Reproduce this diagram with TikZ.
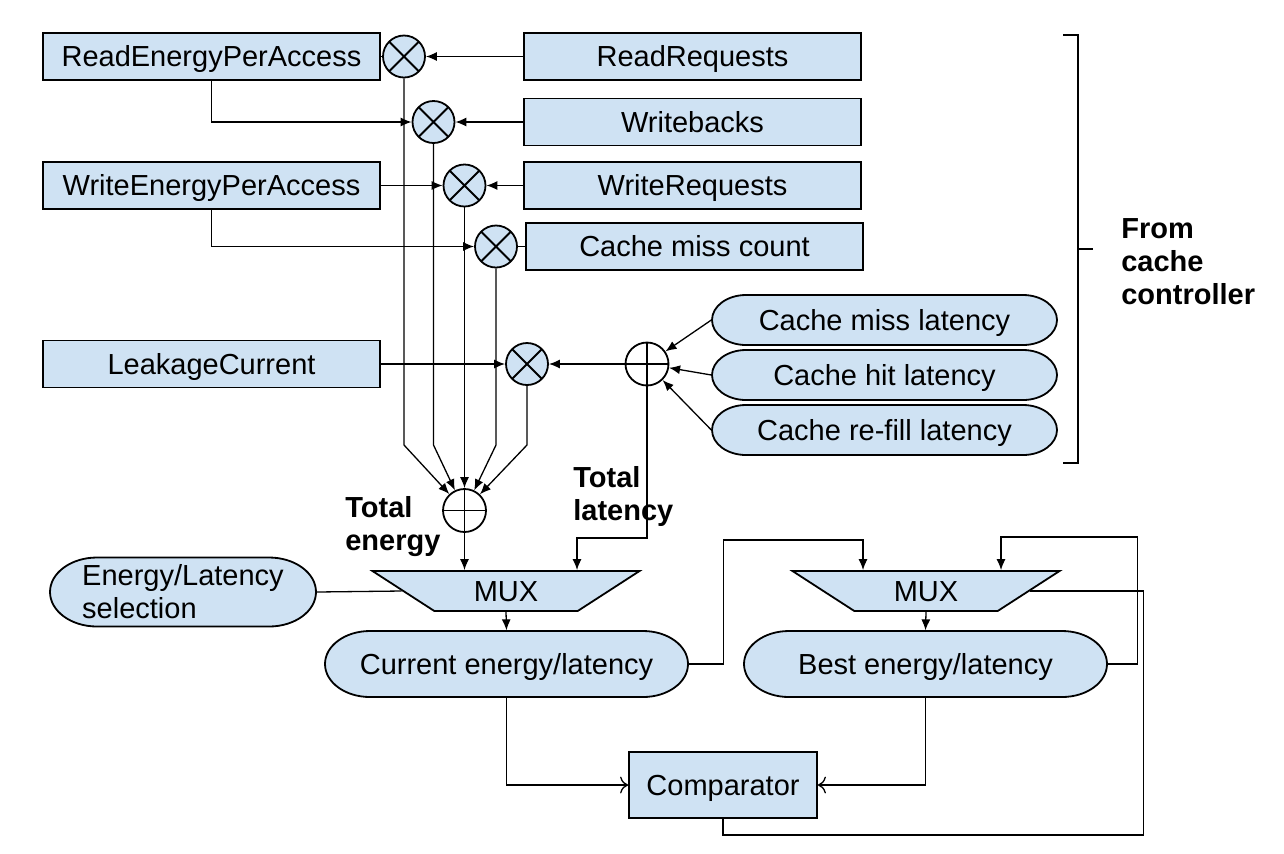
\documentclass[tikz,border=0pt]{standalone}
\usepackage{fontspec}
\setmainfont{Liberation Sans}
\usetikzlibrary{arrows.meta,shapes.geometric}
\definecolor{boxblue}{HTML}{CFE2F3}

% rounded "terminator" node: [text style], name, centre, width, height, text
\newcommand\pill[6][captext]{%
  \pgfmathsetmacro\pw{#4/2}\pgfmathsetmacro\ph{#5/2}\pgfmathsetmacro\pr{0.68*#5}
  \begin{scope}[shift={(#3)}]
    \draw[pillline] (-\pw+\pr,-\ph) -- (\pw-\pr,-\ph)
      arc[start angle=-90, end angle=90, x radius=\pr, y radius=\ph]
      -- (-\pw+\pr,\ph)
      arc[start angle=90, end angle=270, x radius=\pr, y radius=\ph] -- cycle;
  \end{scope}
  \node[#1, minimum width=#4*0.5pt, minimum height=#5*0.5pt, inner sep=0pt, align=left] (#2) at (#3) {#6};%
}

\begin{document}
\begin{tikzpicture}[x=0.5pt, y=-0.5pt, line width=0.65pt,
  >={Latex[length=5.5pt,width=4.5pt]},
  every node/.style={font=\fontsize{14.5}{16.5}\selectfont},
  captext/.style={text height=10.4pt, text depth=0pt},
  box/.style={captext, draw, line width=0.9pt, fill=boxblue, minimum width=168.5pt, minimum height=23.5pt, inner sep=0pt},
  pillline/.style={draw, line width=0.9pt, fill=boxblue},
  mult/.style={circle, draw, line width=0.9pt, fill=boxblue, minimum size=21pt, inner sep=0pt,
    path picture={\draw[line width=0.9pt] (path picture bounding box.north west) -- (path picture bounding box.south east)
      (path picture bounding box.north east) -- (path picture bounding box.south west);}},
  adder/.style={circle, draw, line width=0.9pt, fill=white, minimum size=21.5pt, inner sep=0pt,
    path picture={\draw[line width=0.9pt] (path picture bounding box.north) -- (path picture bounding box.south)
      (path picture bounding box.west) -- (path picture bounding box.east);}},
  mux/.style={captext, trapezium, trapezium angle=36.8, shape border rotate=180, trapezium stretches=true,
    draw, line width=0.9pt, fill=boxblue, minimum width=134pt, minimum height=20pt, inner sep=0pt},
  lbl/.style={font=\fontsize{14.5}{16.5}\selectfont\bfseries, align=left, anchor=west}]
  \useasboundingbox (0,0) rectangle (1284,853);

  % energy per access and counters
  \node[box] (rdE) at (211.5,56.5) {ReadEnergyPerAccess};
  \node[box] (wrE) at (211.5,185.5) {WriteEnergyPerAccess};
  \node[box] (leak) at (211.5,364) {LeakageCurrent};
  \node[box] (rdReq) at (692.5,56.5) {ReadRequests};
  \node[box] (wb) at (692.5,122) {Writebacks};
  \node[box] (wrReq) at (692.5,185.5) {WriteRequests};
  \node[box] (miss) at (694.5,246.5) {Cache miss count};

  % multipliers and adders
  \node[mult] (m1) at (404,56.5) {};
  \node[mult] (m2) at (433.5,122) {};
  \node[mult] (m3) at (464.5,185.5) {};
  \node[mult] (m4) at (496,246.5) {};
  \node[mult] (m5) at (527,364) {};
  \node[adder] (addLat) at (647,364) {};
  \node[adder] (addEn) at (464.5,510.5) {};

  % latencies
  \pill{lMiss}{884.5,320}{345}{50}{Cache miss latency}
  \pill{lHit}{884.5,375}{345}{50}{Cache hit latency}
  \pill{lFill}{884.5,430}{345}{50}{Cache re-fill latency}

  % selection part
  \pill[]{sel}{183,592}{266}{69}{Energy/Latency\\selection}
  \node[mux] (mux1) at (506,591) {MUX};
  \node[mux] (mux2) at (926,591) {MUX};
  \pill{cur}{506.5,664}{363}{66}{Current energy/latency}
  \pill{best}{925.5,664}{363}{66}{Best energy/latency}
  \node[box, minimum width=94pt, minimum height=33pt] (cmp) at (723,785) {Comparator};

  % labels
  \node[lbl] (totEn) at (338,527) {Total\\energy};
  \node[lbl] (totLat) at (566,496) {Total\\latency};
  \node[lbl] (fromCC) at (1114,262) {From\\cache\\controller};
  \draw (1063,35) -- (1078,35) -- (1078,463) -- (1063,463);
  \draw (1078,249) -- (1093,249);

  % inputs to multipliers
  \draw (rdE.east) -- (m1.west);
  \draw[->] (rdReq.west) -- (m1.east);
  \draw[->] (rdE.south) |- (m2);
  \draw[->] (wb.west) -- (m2.east);
  \draw[->] (wrE.east) -- (m3.west);
  \draw[->] (wrReq.west) -- (m3.east);
  \draw[->] (wrE.south) |- (m4);
  \draw (miss.west) -- (m4.east);
  \draw[->] (leak.east) -- (m5.west);
  \draw[->] (addLat.west) -- (m5.east);
  \foreach \n in {lMiss,lHit,lFill}
    \draw[->] (\n.west) -- (addLat);

  % sum of energies
  \foreach \n in {m1,m2,m4,m5}
    \draw[->] (\n.south) -- (\n.south |- 0,445) -- (addEn);
  \draw[->] (m3.south) -- (addEn);

  % into the muxes
  \draw[->] (addEn.south) -- (addEn.south |- mux1.north);
  \draw[->] (addLat.south) |- ([xshift=35.5pt,yshift=16pt]mux1.north) -- ([xshift=35.5pt]mux1.north);
  \draw (sel.east) -- (mux1.west);
  \draw[->] (mux1.south) -- (cur.north);
  \draw[->] (cur.east) -- ++(35,0) |- ([xshift=-31.5pt,yshift=15pt]mux2.north) -- ([xshift=-31.5pt]mux2.north);
  \draw[->] (best.east) -- ++(30,0) |- ([xshift=37.5pt,yshift=16.5pt]mux2.north) -- ([xshift=37.5pt]mux2.north);
  \draw[->] (mux2.south) -- (best.north);

  % comparator
  \draw[-{To[length=4pt]}] (cur.south) |- (cmp.west);
  \draw[-{To[length=4pt]}] (best.south) |- (cmp.east);
  \draw (mux2.east) -- ++(113,0) |- ([yshift=-8pt]cmp.south) -- (cmp.south);
\end{tikzpicture}
\end{document}
